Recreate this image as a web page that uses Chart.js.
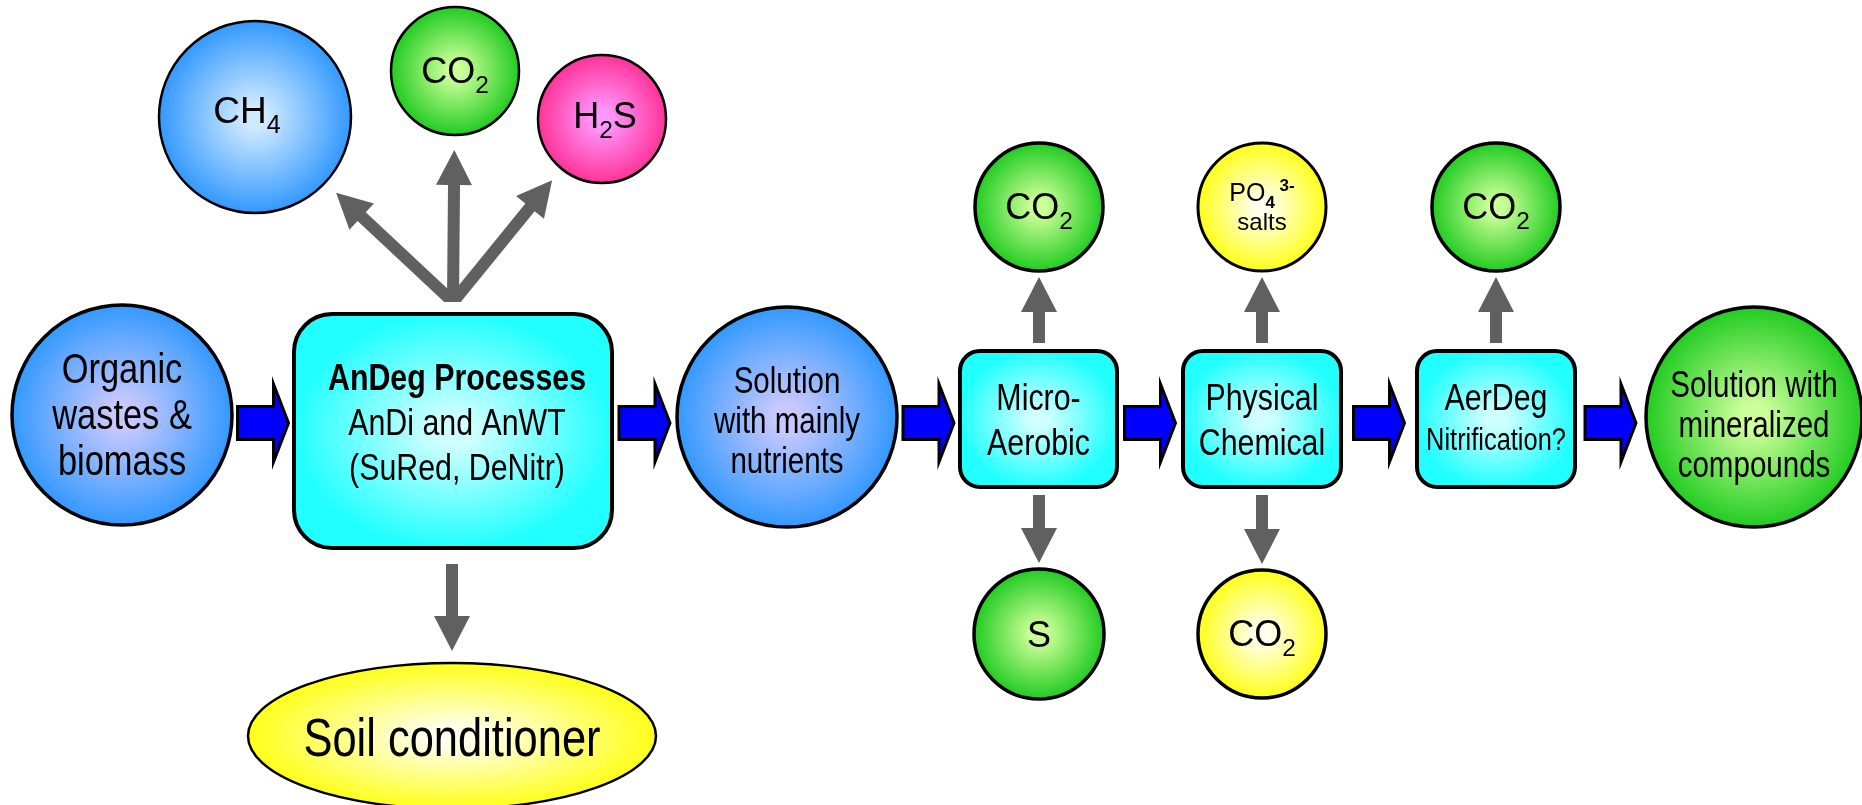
<!DOCTYPE html>
<html>
<head>
<meta charset="utf-8">
<script src="https://cdn.jsdelivr.net/npm/chart.js@4.4.1/dist/chart.umd.min.js"></script>
<style>
  html, body { margin: 0; padding: 0; background: #fff; }
  #wrap { width: 1862px; height: 805px; }
</style>
</head>
<body>
<div id="wrap"><canvas id="flowChart" width="1862" height="805"></canvas></div>
<script>
document.addEventListener('DOMContentLoaded', function() {
    // Node labels: "|" breaks a line, "*" at line start = bold,
    // {_x} subscript, {^x} superscript, {_*x} bold subscript
    const nodeLabels = [
        'Organic|wastes &|biomass',
        '*AnDeg Processes|AnDi and AnWT|(SuRed, DeNitr)',
        'Solution|with mainly|nutrients',
        'Micro-|Aerobic',
        'Physical|Chemical',
        'AerDeg|Nitrification?',
        'Solution with|mineralized|compounds',
        'CH{_4}',
        'CO{_2}',
        'H{_2}S',
        'Soil conditioner',
        'CO{_2}',
        'S',
        'PO{_*4}{^* 3-}|salts',
        'CO{_2}',
        'CO{_2}'
    ];
    // node centres in diagram units (x 0..1862, y 0..805, y down)
    const nodeX = [122, 453, 787, 1038.5, 1262, 1496, 1754, 255, 455, 602, 452, 1039, 1039, 1262, 1262, 1496];
    const nodeY = [415, 431, 417, 419, 419, 419, 417, 117, 71, 119, 736, 207, 634, 207, 634, 207];

    // main flow (blue arrows), gas fan from AnDeg, side products (grey arrows)
    const flowLinks = [[0, 1], [1, 2], [2, 3], [3, 4], [4, 5], [5, 6]];
    const fanLinks = [[1, 7], [1, 8], [1, 9]];
    const sideLinks = [[1, 10], [3, 11], [3, 12], [4, 13], [4, 14], [5, 15]];

    // ---- styling ----
    const nodeShape = ['ellipse', 'box', 'ellipse', 'box', 'box', 'box', 'ellipse', 'ellipse',
        'ellipse', 'ellipse', 'ellipse', 'ellipse', 'ellipse', 'ellipse', 'ellipse', 'ellipse'];
    const nodeSize = [[110, 110], [159, 117], [110, 110], [78.5, 68], [79, 68], [79, 68], [108, 110],
        [96, 96], [64, 64], [64, 64], [204, 73], [64, 64], [65, 65], [64, 64], [64, 64], [64, 64]];
    const nodeFill = ['blue', 'cyan', 'blue', 'cyan', 'cyan', 'cyan', 'green', 'sky', 'green', 'pink',
        'yellow', 'green', 'green', 'yellow', 'yellow', 'green'];
    const nodeBorder = [3.5, 4, 3.5, 4, 4, 4, 3.5, 2.5, 2.5, 2.5, 2.5, 3.5, 3.5, 3, 3.5, 3.5];
    const nodeCorner = [0, 38, 0, 20, 20, 20];
    const nodeNarrow = [true, true, true, true, true, true, true, false, false, false, true,
        false, false, false, false, false];
    const labelSizes = [[42, 42, 42], [37, 37, 37], [36, 36, 36], [37, 37], [37, 37], [37, 31], [36, 36, 36],
        [37], [36], [36], [53], [36], [36], [25, 24], [36], [36]];
    const labelBaselines = [[-32, 14, 60], [-41, 4, 49], [-24, 16, 56], [-9, 36], [-9, 36], [-9, 31],
        [-20, 20, 60], [6], [12], [9], [20], [12], [13], [-6, 23], [12], [12]];
    const labelShiftX = [0, 4, 0, 0, 0, 0, 0, -8, 0, 3, 0, 0, 0, 0, 0, 0];
    const sideGaps = [[16, 12], [8, 6], [8, 6], [8, 6], [8, 6], [8, 6]];
    const gradients = {
        blue: ['#c8c8ff', '#3399ff'],
        sky: ['#cfe9ff', '#3399ff'],
        green: ['#ccff99', '#22cc22'],
        pink: ['#ff99ff', '#ff3399'],
        yellow: ['#ffffee', '#ffff1a'],
        cyan: ['#d0ffff', '#22ffff']
    };
    const flowRowY = 423;
    const fontFamily = "'Liberation Sans', Arial, sans-serif";

    function parseRuns(line) {
        const runs = [];
        const re = /\{([_^])(\*?)([^}]*)\}/g;
        let last = 0, m;
        while ((m = re.exec(line))) {
            if (m.index > last) runs.push({ t: line.slice(last, m.index), mode: '' });
            runs.push({ t: m[3], mode: m[1], bold: m[2] === '*' });
            last = re.lastIndex;
        }
        if (last < line.length) runs.push({ t: line.slice(last), mode: '' });
        return runs;
    }

    function drawLabel(ctx, i, cx, cy, kx, ky) {
        nodeLabels[i].split('|').forEach((raw, li) => {
            const bold = raw.startsWith('*');
            const line = bold ? raw.slice(1) : raw;
            const size = labelSizes[i][li];
            const runs = parseRuns(line);
            runs.forEach(r => {
                const s = r.mode ? size * 0.68 : size;
                const b = r.mode ? r.bold : bold;
                r.font = (b ? 'bold ' : '') + s + 'px ' + fontFamily;
                r.dy = r.mode === '_' ? size * 0.28 : (r.mode === '^' ? -size * 0.4 : 0);
                ctx.font = r.font;
                r.w = ctx.measureText(r.t).width;
            });
            const total = runs.reduce((a, r) => a + r.w, 0);
            ctx.save();
            ctx.translate(cx + labelShiftX[i] * kx, cy + labelBaselines[i][li] * ky);
            ctx.scale(nodeNarrow[i] ? 0.82 : 1, 1);
            ctx.fillStyle = '#000';
            ctx.textAlign = 'left';
            ctx.textBaseline = 'alphabetic';
            let x = -total / 2;
            runs.forEach(r => {
                ctx.font = r.font;
                ctx.fillText(r.t, x, r.dy);
                x += r.w;
            });
            ctx.restore();
        });
    }

    function roundRectPath(ctx, x, y, w, h, r) {
        ctx.beginPath();
        ctx.moveTo(x + r, y);
        ctx.arcTo(x + w, y, x + w, y + h, r);
        ctx.arcTo(x + w, y + h, x, y + h, r);
        ctx.arcTo(x, y + h, x, y, r);
        ctx.arcTo(x, y, x + w, y, r);
        ctx.closePath();
    }

    function greyArrow(ctx, x0, y0, x1, y1) {
        const dx = x1 - x0, dy = y1 - y0, len = Math.hypot(dx, dy);
        const ux = dx / len, uy = dy / len, px = -uy, py = ux;
        const hl = 35, hw = 18, sw = 6;
        const bx = x1 - ux * hl, by = y1 - uy * hl;
        ctx.beginPath();
        ctx.moveTo(x0 + px * sw, y0 + py * sw);
        ctx.lineTo(bx + px * sw, by + py * sw);
        ctx.lineTo(bx + px * hw, by + py * hw);
        ctx.lineTo(x1, y1);
        ctx.lineTo(bx - px * hw, by - py * hw);
        ctx.lineTo(bx - px * sw, by - py * sw);
        ctx.lineTo(x0 - px * sw, y0 - py * sw);
        ctx.closePath();
        ctx.fill();
    }

    function blueArrow(ctx, x0, yc, len, kx, ky) {
        const shaft = 36 * kx, sh = 16.5 * ky, hh = 39 * ky;
        ctx.beginPath();
        ctx.moveTo(x0, yc - sh);
        ctx.lineTo(x0 + shaft, yc - sh);
        ctx.lineTo(x0 + shaft, yc - hh);
        ctx.lineTo(x0 + len, yc);
        ctx.lineTo(x0 + shaft, yc + hh);
        ctx.lineTo(x0 + shaft, yc + sh);
        ctx.lineTo(x0, yc + sh);
        ctx.closePath();
        ctx.fillStyle = '#0000ff';
        ctx.fill();
        ctx.lineWidth = 3;
        ctx.lineJoin = 'miter';
        ctx.strokeStyle = '#000';
        ctx.stroke();
    }

    const flowPlugin = {
        id: 'flowDiagram',
        afterDatasetsDraw(chart) {
            const ctx = chart.ctx;
            const xs = chart.scales.x, ys = chart.scales.y;
            const pts = chart.getDatasetMeta(0).data;
            const kx = Math.abs(xs.getPixelForValue(1) - xs.getPixelForValue(0));
            const ky = Math.abs(ys.getPixelForValue(1) - ys.getPixelForValue(0));
            const P = i => ({ x: pts[i].x, y: pts[i].y, rx: nodeSize[i][0] * kx, ry: nodeSize[i][1] * ky });

            ctx.save();
            // grey fan arrows out of the AnDeg box
            ctx.fillStyle = '#606060';
            const src = P(1);
            const fx = src.x, fy = src.y - src.ry - 12 * ky;
            ctx.save();
            ctx.beginPath();
            ctx.rect(0, 0, chart.width, fy);
            ctx.clip();
            fanLinks.forEach(([a, b]) => {
                const t = P(b);
                const dx = t.x - fx, dy = t.y - fy, len = Math.hypot(dx, dy);
                const ux = dx / len, uy = dy / len;
                const end = len - t.rx - 15 * kx;
                greyArrow(ctx, fx - ux * 10, fy - uy * 10, fx + ux * end, fy + uy * end);
            });
            ctx.restore();

            // vertical side-product arrows
            ctx.fillStyle = '#606060';
            sideLinks.forEach(([a, b], k) => {
                const s = P(a), t = P(b);
                const dir = t.y > s.y ? 1 : -1;
                const y0 = s.y + dir * (s.ry + sideGaps[k][0] * ky);
                const y1 = t.y - dir * (t.ry + sideGaps[k][1] * ky);
                greyArrow(ctx, t.x, y0, t.x, y1);
            });

            // blue flow arrows, centred in the gap between nodes
            const rowY = ys.getPixelForValue(flowRowY);
            flowLinks.forEach(([a, b]) => {
                const s = P(a), t = P(b);
                const left = s.x + s.rx, right = t.x - t.rx;
                const len = 51 * kx;
                blueArrow(ctx, (left + right) / 2 - len / 2, rowY, len, kx, ky);
            });

            // nodes
            nodeLabels.forEach((_, i) => {
                const n = P(i);
                const g = gradients[nodeFill[i]];
                if (nodeShape[i] === 'box') {
                    roundRectPath(ctx, n.x - n.rx, n.y - n.ry, n.rx * 2, n.ry * 2, nodeCorner[i] * kx);
                } else {
                    ctx.beginPath();
                    ctx.ellipse(n.x, n.y, n.rx, n.ry, 0, 0, Math.PI * 2);
                }
                ctx.save();
                ctx.translate(n.x, n.y);
                ctx.scale(n.rx, n.ry);
                const grad = ctx.createRadialGradient(0, 0, 0, 0, 0, 1);
                grad.addColorStop(0, g[0]);
                grad.addColorStop(0.12, g[0]);
                grad.addColorStop(1, g[1]);
                ctx.fillStyle = grad;
                ctx.fill();
                ctx.restore();
                ctx.lineWidth = nodeBorder[i];
                ctx.strokeStyle = '#000';
                ctx.stroke();
                drawLabel(ctx, i, n.x, n.y, kx, ky);
            });
            ctx.restore();
        }
    };

    const ctx = document.getElementById('flowChart').getContext('2d');
    new Chart(ctx, {
        type: 'scatter',
        data: {
            datasets: [{
                label: 'nodes',
                data: nodeX.map((x, i) => ({ x: x, y: nodeY[i] })),
                pointRadius: 0,
                pointHoverRadius: 0
            }]
        },
        options: {
            responsive: false,
            animation: false,
            events: [],
            layout: { padding: 0 },
            scales: {
                x: { type: 'linear', min: 0, max: 1862, display: false },
                y: { type: 'linear', min: 0, max: 805, reverse: true, display: false }
            },
            plugins: {
                legend: { display: false },
                tooltip: { enabled: false }
            }
        },
        plugins: [flowPlugin]
    });
});
</script>
</body>
</html>
